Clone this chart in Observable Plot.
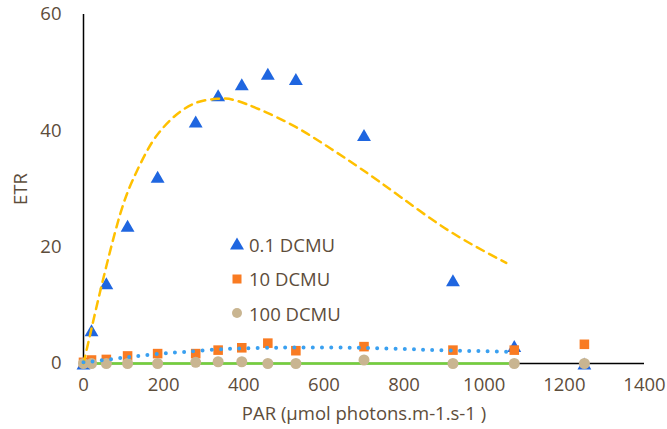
<!DOCTYPE html>
<html><head><meta charset="utf-8">
<script src="https://cdn.jsdelivr.net/npm/d3@7"></script>
<script src="https://cdn.jsdelivr.net/npm/@observablehq/plot@0.6"></script>
<style>
body{margin:0;background:#fff;}
#wrap{position:relative;width:667px;height:429px;overflow:hidden;}
#legend{position:absolute;left:229px;top:227px;font-family:"Open Sans",sans-serif;font-size:18.5px;color:#5d4d3b;}
.row{display:flex;align-items:center;height:34.5px;white-space:nowrap;}
.row svg{margin-right:4px;}
</style></head><body>
<div id="wrap"><div id="chart"></div><div id="legend"></div></div>
<script>
// PAR levels (µmol photons m-1 s-1)
const par = [0, 20, 57, 110, 185, 280, 336, 395, 460, 530, 700, 922, 1075, 1250];
// ETR per DCMU concentration
const etr01 = [0, 5.7, 13.8, 23.7, 32.1, 41.6, 46.1, 48.0, 49.8, 48.9, 39.3, 14.3, 3.0, 0];
const etr10 = [0.2, 0.6, 0.7, 1.3, 1.7, 1.7, 2.3, 2.7, 3.5, 2.2, 2.9, 2.3, 2.3, 3.3];
const etr100 = [0, 0, 0, 0, 0, 0.2, 0.3, 0.3, 0, 0, 0.6, 0, 0, 0];

// Trendlines
const trend01X = [0, 20, 42, 72, 97, 122, 159, 192, 234, 284, 334, 376, 442, 526, 609, 692, 792, 917, 1055];
const trend01Y = [0, 6, 12.5, 20.8, 26.9, 31.4, 36.6, 40.0, 42.9, 44.9, 45.5, 45.3, 43.6, 40.8, 37.3, 33.5, 28.6, 22.6, 17.3];
const trend10X = [0, 29, 87, 136, 194, 252, 330, 398, 466, 524, 621, 718, 815, 912, 1009, 1075];
const trend10Y = [0.2, 0.4, 0.9, 1.3, 1.7, 2.0, 2.4, 2.6, 2.7, 2.75, 2.75, 2.65, 2.45, 2.25, 2.1, 2.0];
const trend100X = [0, 1075];
const trend100Y = [0, 0];

const seriesNames = ["0.1 DCMU", "10 DCMU", "100 DCMU"];
const xTicks = [0, 200, 400, 600, 800, 1000, 1200, 1400];
const yTicks = [0, 20, 40, 60];

const colors = {tri: "#1f66e0", sq: "#f97b22", circ: "#c9b591", yellow: "#ffc000", dotted: "#3aa0f0", green: "#73d13a"};

const pts = (xs, ys) => xs.map((x, i) => ({x, y: ys[i]}));
const d01 = pts(par, etr01), d10 = pts(par, etr10), d100 = pts(par, etr100);
const t01 = pts(trend01X, trend01Y), t10 = pts(trend10X, trend10Y), t100 = pts(trend100X, trend100Y);

const chart = Plot.plot({
  width: 667, height: 429,
  marginLeft: 83, marginRight: 23, marginTop: 14, marginBottom: 66,
  style: {fontFamily: "Open Sans, sans-serif", fontSize: "18.5px", color: "#5d4d3b", background: "#fff"},
  x: {domain: [0, 1400]},
  y: {domain: [0, 60]},
  marks: [
    Plot.axisX({ticks: xTicks, tickFormat: d => String(d), tickSize: 0, tickPadding: 14, label: "PAR (µmol photons.m-1.s-1 )", labelAnchor: "center", labelOffset: 56, labelArrow: "none"}),
    Plot.axisY({ticks: yTicks, tickSize: 0, tickPadding: 22, label: "ETR", labelAnchor: "center", labelOffset: 70, labelArrow: "none"}),
    Plot.ruleY([0], {stroke: "#000", strokeWidth: 1.5}),
    Plot.ruleX([0], {stroke: "#000", strokeWidth: 1.5}),
    Plot.line(t100, {x: "x", y: "y", stroke: colors.green, strokeWidth: 2.5}),
    Plot.dot(d01, {x: "x", y: "y", symbol: "triangle", r: 5.14, fill: colors.tri, dy: 2}),
    Plot.dot(d10, {x: "x", y: "y", symbol: "square", r: 5.4, fill: colors.sq}),
    Plot.dot(d100, {x: "x", y: "y", r: 5.5, fill: colors.circ}),
    Plot.line(t01, {x: "x", y: "y", stroke: colors.yellow, strokeWidth: 2.5, strokeDasharray: "8 6", curve: "natural"}),
    Plot.line(t10, {x: "x", y: "y", stroke: colors.dotted, strokeWidth: 4, strokeDasharray: "0 9.2", strokeLinecap: "round", curve: "natural"})
  ]
});
document.getElementById("chart").append(chart);

// legend
const sym = [
  `<svg width="16" height="16"><path d="M8,1.5 L15,13.5 L1,13.5 Z" fill="${colors.tri}"/></svg>`,
  `<svg width="16" height="16"><rect x="3.5" y="3.5" width="9" height="9" fill="${colors.sq}"/></svg>`,
  `<svg width="16" height="16"><circle cx="8" cy="8" r="5" fill="${colors.circ}"/></svg>`
];
document.getElementById("legend").innerHTML = seriesNames.map((n, i) => `<div class="row">${sym[i]}<span>${n}</span></div>`).join("");
</script>
</body></html>
